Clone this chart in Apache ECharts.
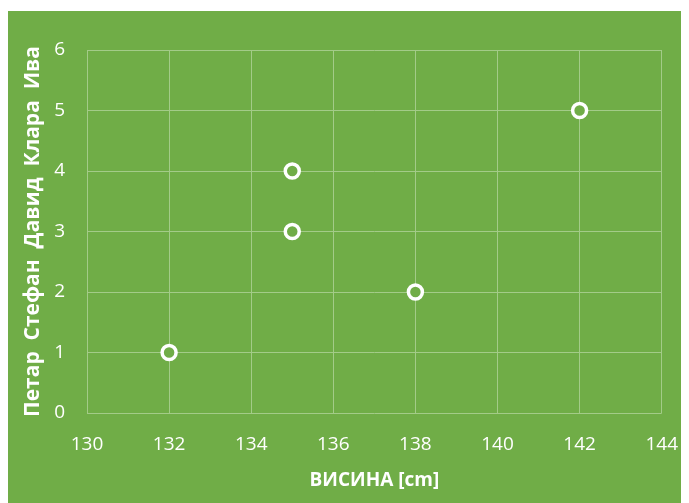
<!DOCTYPE html>
<html lang="sr">
<head>
    <meta charset="UTF-8">
    <title>Висина</title>
    <script src="https://cdn.jsdelivr.net/npm/echarts@6/dist/echarts.min.js"></script>
    <style>
        body { margin: 0; background: #fff; }
        #chart { position: absolute; left: 8px; top: 11px; width: 673px; height: 492px; }
    </style>
</head>
<body>
    <div id="chart"></div>
<script>
    // висина и редни број ученика
    var heights = [132, 138, 135, 135, 142];
    var ranks = [1, 2, 3, 4, 5];
    var xTicks = { min: 130, max: 144, interval: 2 };
    var yTicks = { min: 0, max: 6, interval: 1 };
    var xName = 'ВИСИНА [cm]';
    var yName = 'Петар  Стефан  Давид  Клара  Ива';

    var points = heights.map(function (h, i) { return [h, ranks[i]]; });

    var chart = echarts.init(document.getElementById('chart'));
    var font = '"Open Sans", "Noto Sans", sans-serif';
    var gridColor = '#a3cb88';
    chart.setOption({
        backgroundColor: '#70ad47',
        animation: false,
        grid: { left: 79, right: 17, top: 39, bottom: 90 },
        xAxis: {
            type: 'value',
            min: xTicks.min, max: xTicks.max, interval: xTicks.interval,
            name: xName,
            nameLocation: 'middle',
            nameGap: 58,
            nameTextStyle: { color: '#fff', fontSize: 19, fontFamily: font, fontWeight: 'bold' },
            axisLine: { show: false },
            axisTick: { show: false },
            axisLabel: { color: '#fff', fontSize: 19, fontFamily: font, margin: 22 },
            splitLine: { lineStyle: { color: gridColor, width: 1 } }
        },
        yAxis: {
            type: 'value',
            min: yTicks.min, max: yTicks.max, interval: yTicks.interval,
            name: yName,
            nameLocation: 'middle',
            nameGap: 42,
            nameTextStyle: { color: '#fff', fontSize: 21, fontFamily: font, fontWeight: 'bold' },
            axisLine: { show: false },
            axisTick: { show: false },
            axisLabel: { color: '#fff', fontSize: 19, fontFamily: font, margin: 22 },
            splitLine: { lineStyle: { color: gridColor, width: 1 } }
        },
        series: [{
            type: 'scatter',
            data: points,
            symbol: 'circle',
            symbolSize: 14,
            itemStyle: { color: '#70ad47', borderColor: '#ffffff', borderWidth: 3.5, opacity: 1 }
        }]
    });
</script>
</body>
</html>
